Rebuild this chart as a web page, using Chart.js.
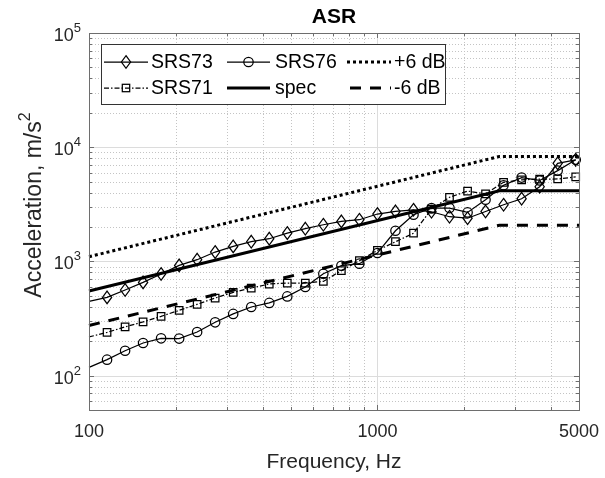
<!DOCTYPE html>
<html>
<head>
<meta charset="utf-8">
<script src="https://cdn.jsdelivr.net/npm/chart.js@4.4.0/dist/chart.umd.min.js"></script>
<style>
  html, body { margin: 0; padding: 0; background: #fff; }
  #wrap { width: 605px; height: 478px; }
</style>
</head>
<body>
<div id="wrap"><canvas id="c" width="605" height="478"></canvas></div>
<script>
// frequencies (Hz) of the measured SRS points
const freqs = [100, 115.5, 133.4, 154.0, 177.8, 205.4, 237.1, 273.8, 316.2, 365.2, 421.7, 487.0, 562.3, 649.4,
               749.9, 866.0, 1000, 1155, 1334, 1540, 1778, 2054, 2371, 2738, 3162, 3652, 4217, 4870];
const srs73 = [447, 484, 562, 655, 776, 923, 1035, 1208, 1353, 1487, 1580, 1772, 1933, 2094,
               2239, 2317, 2600, 2737, 2833, 2722, 2461, 2388, 2737, 3134, 3539, 4506, 7230, 7760];
const srs76 = [118, 138, 165, 193, 212, 211, 241, 293, 347, 399, 433, 494, 597, 780,
               917, 955, 1184, 1856, 2562, 2931, 2931, 2684, 3466, 4642, 5420, 5115, 6240, 7760];
const srs71 = [218, 239, 267, 295, 330, 373, 421, 478, 536, 585, 634, 647, 647, 668,
               830, 1014, 1248, 1487, 1765, 2873, 3645, 4130, 3911, 4930, 5185, 5260, 5270, 5485];

// spec and tolerance bands
const specFreq = [100, 2650, 5000];
const spec = [550, 4150, 4150];
const plus6 = [1100, 8300, 8300];
const minus6 = [275, 2075, 2075];

// axis ticks
const xTickVals = [100, 1000, 5000];
const xTickLabels = ['100', '1000', '5000'];
const xMajor = [100, 1000];
const xMinor = [200, 300, 400, 500, 600, 700, 800, 900, 2000, 3000, 4000];
const yTickVals = [100, 1000, 10000, 100000];
const yTickExp = ['2', '3', '4', '5'];
const yMinor = [60, 70, 80, 90, 200, 300, 400, 500, 600, 700, 800, 900,
                2000, 3000, 4000, 5000, 6000, 7000, 8000, 9000,
                20000, 30000, 40000, 50000, 60000, 70000, 80000, 90000];

const FONT = "'Liberation Sans', Arial, Helvetica, sans-serif";
const LW = 1.25;   // thin line width

const pts = (xs, ys) => xs.map((x, i) => ({ x: x, y: ys[i] }));

// matlab-like diamond: a bit taller than wide
function strokeDiamond(ctx, x, y) {
    ctx.beginPath();
    ctx.moveTo(x, y - 6.3); ctx.lineTo(x + 4.6, y); ctx.lineTo(x, y + 6.3); ctx.lineTo(x - 4.6, y);
    ctx.closePath();
    ctx.stroke();
}

const markRadius = r => (ctx => ctx.dataIndex === 0 ? 0 : r);

const datasets = [
    { label: '+6 dB', data: pts(specFreq, plus6), borderColor: '#000', borderWidth: 3, borderDash: [3, 3], pointRadius: 0 },
    { label: 'spec', data: pts(specFreq, spec), borderColor: '#000', borderWidth: 3, pointRadius: 0 },
    { label: '-6 dB', data: pts(specFreq, minus6), borderColor: '#000', borderWidth: 3, borderDash: [11, 9], pointRadius: 0 },
    // diamonds for this one are stroked by the plugin at the element positions
    { label: 'SRS73', data: pts(freqs, srs73), borderColor: '#000', borderWidth: LW, pointRadius: 0 },
    { label: 'SRS76', data: pts(freqs, srs76), borderColor: '#000', borderWidth: LW,
      pointStyle: 'circle', pointRadius: markRadius(4.7), pointBorderWidth: LW, pointBackgroundColor: 'rgba(0,0,0,0)', pointBorderColor: '#000' },
    { label: 'SRS71', data: pts(freqs, srs71), borderColor: '#000', borderWidth: LW, borderDash: [5, 2, 1.5, 2],
      pointStyle: 'rect', pointRadius: markRadius(5.3), pointBorderWidth: LW, pointBackgroundColor: 'rgba(0,0,0,0)', pointBorderColor: '#000' },
];
datasets.forEach(d => { d.clip = false; d.tension = 0; d.fill = false; });

function drawLegendSample(ctx, x1, x2, y, kind) {
    ctx.save();
    ctx.strokeStyle = '#000';
    ctx.beginPath();
    ctx.moveTo(x1, y); ctx.lineTo(x2, y);
    if (kind === 'SRS73' || kind === 'SRS76') { ctx.lineWidth = LW; }
    if (kind === 'SRS71') { ctx.lineWidth = LW; ctx.setLineDash([5, 2, 1.5, 2]); }
    if (kind === 'spec') { ctx.lineWidth = 3; }
    if (kind === '+6 dB') { ctx.lineWidth = 3; ctx.setLineDash([3, 3]); }
    if (kind === '-6 dB') { ctx.lineWidth = 3; ctx.setLineDash([11, 9]); ctx.lineDashOffset = -3; }
    ctx.stroke();
    ctx.setLineDash([]);
    const mx = (x1 + x2) / 2;
    ctx.lineWidth = LW;
    if (kind === 'SRS73') {
        strokeDiamond(ctx, mx, y);
    } else if (kind === 'SRS76') {
        ctx.beginPath(); ctx.arc(mx, y, 4.7, 0, Math.PI * 2); ctx.stroke();
    } else if (kind === 'SRS71') {
        ctx.strokeRect(mx - 3.7, y - 3.7, 7.4, 7.4);
    }
    ctx.restore();
}

const matlabAxes = {
    id: 'matlabAxes',
    beforeDatasetsDraw(chart) {
        const { ctx, chartArea: a, scales: { x, y } } = chart;
        ctx.save();
        ctx.lineWidth = 1;
        // minor grid
        ctx.strokeStyle = '#c4c4c4';
        ctx.setLineDash([1, 2]);
        ctx.beginPath();
        xMinor.forEach(v => { const px = Math.round(x.getPixelForValue(v)) + 0.5; ctx.moveTo(px, a.top); ctx.lineTo(px, a.bottom); });
        yMinor.forEach(v => { const py = Math.round(y.getPixelForValue(v)) + 0.5; ctx.moveTo(a.left, py); ctx.lineTo(a.right, py); });
        ctx.stroke();
        // major grid
        ctx.setLineDash([]);
        ctx.strokeStyle = '#dcdcdc';
        ctx.beginPath();
        xMajor.forEach(v => { const px = Math.round(x.getPixelForValue(v)) + 0.5; ctx.moveTo(px, a.top); ctx.lineTo(px, a.bottom); });
        yTickVals.forEach(v => { const py = Math.round(y.getPixelForValue(v)) + 0.5; ctx.moveTo(a.left, py); ctx.lineTo(a.right, py); });
        ctx.stroke();
        ctx.restore();
    },
    afterDatasetsDraw(chart) {
        const { ctx, chartArea: a, scales: { x, y } } = chart;
        ctx.save();
        // SRS73 diamonds at the line's element positions
        ctx.strokeStyle = '#000';
        ctx.lineWidth = LW;
        chart.getDatasetMeta(3).data.forEach((p, i) => { if (i > 0) strokeDiamond(ctx, p.x, p.y); });

        // box + inward ticks
        ctx.strokeStyle = '#6e6e6e';
        ctx.lineWidth = 1;
        ctx.strokeRect(Math.round(a.left) + 0.5, Math.round(a.top) + 0.5, Math.round(a.right - a.left), Math.round(a.bottom - a.top));
        ctx.beginPath();
        const xt = (v, len) => { const px = Math.round(x.getPixelForValue(v)) + 0.5;
            ctx.moveTo(px, a.bottom); ctx.lineTo(px, a.bottom - len); ctx.moveTo(px, a.top); ctx.lineTo(px, a.top + len); };
        const yt = (v, len) => { const py = Math.round(y.getPixelForValue(v)) + 0.5;
            ctx.moveTo(a.left, py); ctx.lineTo(a.left + len, py); ctx.moveTo(a.right, py); ctx.lineTo(a.right - len, py); };
        xMajor.forEach(v => xt(v, 5)); xMinor.forEach(v => xt(v, 3));
        yTickVals.forEach(v => yt(v, 5)); yMinor.forEach(v => yt(v, 3));
        ctx.stroke();

        ctx.fillStyle = '#262626';
        // x tick labels
        ctx.font = '18px ' + FONT;
        ctx.textAlign = 'center';
        ctx.textBaseline = 'top';
        xTickVals.forEach((v, i) => ctx.fillText(xTickLabels[i], x.getPixelForValue(v), a.bottom + 13));
        // y tick labels 10^n
        yTickVals.forEach((v, i) => {
            const py = y.getPixelForValue(v);
            ctx.font = '13px ' + FONT;
            const ew = ctx.measureText(yTickExp[i]).width;
            ctx.textAlign = 'left'; ctx.textBaseline = 'alphabetic';
            ctx.fillText(yTickExp[i], a.left - 8 - ew, py - 1);
            ctx.font = '18px ' + FONT;
            ctx.textAlign = 'right'; ctx.textBaseline = 'middle';
            ctx.fillText('10', a.left - 8 - ew, py + 3);
        });
        // x axis title
        ctx.font = '21px ' + FONT;
        ctx.textAlign = 'center'; ctx.textBaseline = 'middle';
        ctx.fillText('Frequency, Hz', (a.left + a.right) / 2, 462);
        // y axis title
        ctx.save();
        ctx.translate(35, 205);
        ctx.rotate(-Math.PI / 2);
        ctx.font = '23px ' + FONT;
        const main = 'Acceleration, m/s';
        const mw = ctx.measureText(main).width;
        ctx.font = '16px ' + FONT;
        const sw = ctx.measureText('2').width;
        ctx.textAlign = 'left'; ctx.textBaseline = 'middle';
        ctx.font = '23px ' + FONT;
        ctx.fillText(main, -(mw + sw) / 2, 0);
        ctx.font = '16px ' + FONT;
        ctx.fillText('2', -(mw + sw) / 2 + mw, -9);
        ctx.restore();
        // title
        ctx.fillStyle = '#000';
        ctx.font = 'bold 21px ' + FONT;
        ctx.textAlign = 'center'; ctx.textBaseline = 'middle';
        ctx.fillText('ASR', (a.left + a.right) / 2, 17);

        // legend
        const lx = 101.5, ly = 44.5, lw = 344, lh = 60;
        ctx.fillStyle = '#fff';
        ctx.fillRect(lx, ly, lw, lh);
        ctx.strokeStyle = '#333';
        ctx.lineWidth = 1;
        ctx.strokeRect(lx, ly, lw, lh);
        const rows = [62, 88];
        const cols = [[104, 148, 151], [227, 270, 275], [347, 391, 394]];
        const items = [['SRS73', 'SRS76', '+6 dB'], ['SRS71', 'spec', '-6 dB']];
        ctx.font = '19.5px ' + FONT;
        ctx.textAlign = 'left'; ctx.textBaseline = 'middle';
        items.forEach((row, r) => row.forEach((name, c) => {
            drawLegendSample(ctx, cols[c][0], cols[c][1], rows[r], name);
            ctx.fillStyle = '#000';
            ctx.fillText(name, cols[c][2], rows[r] + 1);
        }));
        ctx.restore();
    }
};

new Chart(document.getElementById('c').getContext('2d'), {
    type: 'line',
    data: { datasets: datasets },
    options: {
        responsive: false,
        animation: false,
        events: [],
        layout: { padding: { left: 89, top: 33, right: 26, bottom: 68 } },
        plugins: { legend: { display: false }, title: { display: false }, tooltip: { enabled: false } },
        scales: {
            x: { type: 'logarithmic', min: 100, max: 5000, display: false },
            y: { type: 'logarithmic', min: 50, max: 100000, display: false },
        },
    },
    plugins: [matlabAxes],
});
</script>
</body>
</html>
